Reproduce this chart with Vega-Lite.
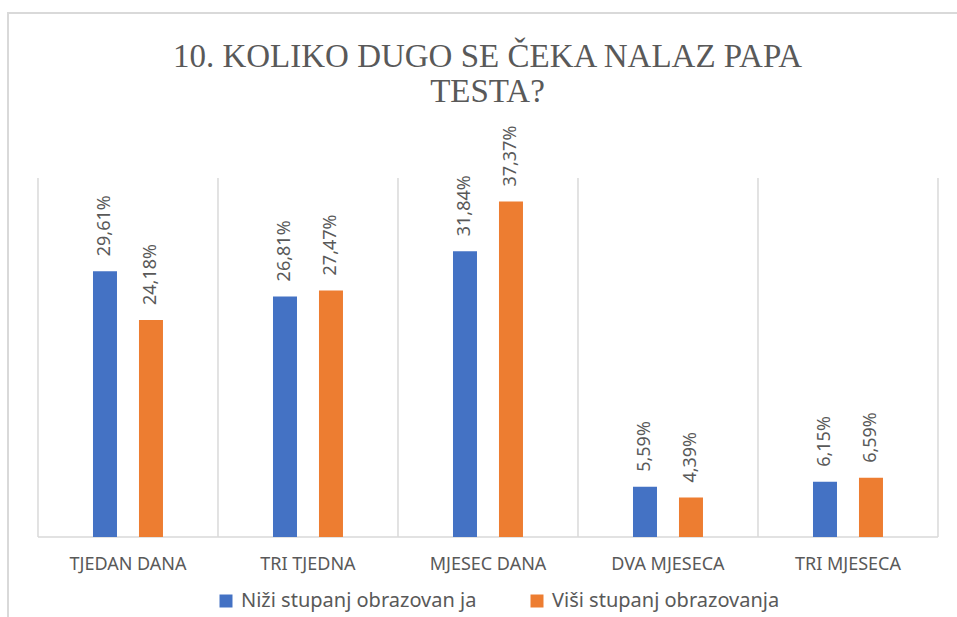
{
  "$schema": "https://vega.github.io/schema/vega-lite/v6.json",
  "width": 949,
  "height": 604,
  "autosize": {"type": "none"},
  "padding": {"left": 8, "top": 13, "right": 0, "bottom": 0},
  "background": "white",
  "config": {
    "view": {"stroke": "#d9d9d9", "strokeWidth": 2, "strokeDash": [949, 1553, 604]},
    "locale": {"number": {"decimal": ",", "thousands": ".", "grouping": [3], "currency": ["", " €"]}},
    "font": "Noto Sans"
  },
  "title": {
    "text": ["10. KOLIKO DUGO SE ČEKA NALAZ PAPA", "TESTA?"],
    "anchor": "middle",
    "font": "Liberation Serif",
    "fontSize": 33,
    "fontWeight": "normal",
    "color": "#595959",
    "lineHeight": 35,
    "offset": -96,
    "dx": 5
  },
  "data": {
    "values": [
      {"cat": "TJEDAN DANA", "series": "Niži stupanj obrazovan ja", "value": 0.2961},
      {"cat": "TJEDAN DANA", "series": "Viši stupanj obrazovanja", "value": 0.2418},
      {"cat": "TRI TJEDNA", "series": "Niži stupanj obrazovan ja", "value": 0.2681},
      {"cat": "TRI TJEDNA", "series": "Viši stupanj obrazovanja", "value": 0.2747},
      {"cat": "MJESEC DANA", "series": "Niži stupanj obrazovan ja", "value": 0.3184},
      {"cat": "MJESEC DANA", "series": "Viši stupanj obrazovanja", "value": 0.3737},
      {"cat": "DVA MJESECA", "series": "Niži stupanj obrazovan ja", "value": 0.0559},
      {"cat": "DVA MJESECA", "series": "Viši stupanj obrazovanja", "value": 0.0439},
      {"cat": "TRI MJESECA", "series": "Niži stupanj obrazovan ja", "value": 0.0615},
      {"cat": "TRI MJESECA", "series": "Viši stupanj obrazovanja", "value": 0.0659}
    ]
  },
  "layer": [
    {
      "transform": [{"filter": "datum.series === 'Niži stupanj obrazovan ja'"}],
      "mark": {"type": "rule", "color": "#d9d9d9", "strokeWidth": 1.5},
      "encoding": {
        "x": {
          "field": "cat", "type": "nominal", "sort": null, "bandPosition": 0,
          "scale": {"paddingInner": 0, "paddingOuter": 0.1361, "align": 0.612},
          "axis": {
            "title": null, "orient": "bottom", "offset": -80,
            "labelAngle": 0, "labelFont": "Noto Sans", "labelFontSize": 18,
            "labelColor": "#595959", "labelPadding": 18,
            "ticks": false, "domain": false, "grid": false, "bandPosition": 0.5
          }
        },
        "y": {"datum": 0, "scale": {"domain": [-0.089136, 0.583844], "nice": false}, "axis": null},
        "y2": {"datum": 0.4}
      }
    },
    {
      "transform": [{"filter": "datum.series === 'Niži stupanj obrazovan ja' && datum.cat === 'TRI MJESECA'"}],
      "mark": {"type": "rule", "color": "#d9d9d9", "strokeWidth": 1.5},
      "encoding": {
        "x": {"field": "cat", "type": "nominal", "sort": null, "bandPosition": 1},
        "y": {"datum": 0, "scale": {"domain": [-0.089136, 0.583844], "nice": false}, "axis": null},
        "y2": {"datum": 0.4}
      }
    },
    {
      "transform": [{"filter": "datum.series === 'Niži stupanj obrazovan ja'"}],
      "mark": {"type": "rule", "color": "#d9d9d9", "strokeWidth": 1.5},
      "encoding": {
        "x": {"field": "cat", "type": "nominal", "sort": null, "bandPosition": 0},
        "x2": {"field": "cat", "bandPosition": 1},
        "y": {"datum": 0, "scale": {"domain": [-0.089136, 0.583844], "nice": false}, "axis": null}
      }
    },
    {
      "mark": {"type": "bar", "width": 24},
      "encoding": {
        "x": {"field": "cat", "type": "nominal", "sort": null},
        "xOffset": {
          "field": "series", "type": "nominal",
          "sort": ["Niži stupanj obrazovan ja", "Viši stupanj obrazovanja"],
          "scale": {"paddingInner": 0, "paddingOuter": 0.957}
        },
        "y": {"field": "value", "type": "quantitative", "scale": {"domain": [-0.089136, 0.583844], "nice": false}, "axis": null},
        "color": {
          "field": "series",
          "type": "nominal",
          "scale": {
            "domain": ["Niži stupanj obrazovan ja", "Viši stupanj obrazovanja"],
            "range": ["#4472C4", "#ED7D31"]
          },
          "legend": {
            "title": null,
            "orient": "none",
            "legendX": 208,
            "legendY": 578,
            "direction": "horizontal",
            "symbolType": "square",
            "symbolSize": 169,
            "symbolStrokeWidth": 0,
            "labelFont": "Noto Sans",
            "labelFontSize": 20,
            "labelColor": "#595959",
            "labelOffset": 5,
            "columnPadding": 50,
            "labelLimit": 400
          }
        }
      }
    },
    {
      "mark": {
        "type": "text",
        "angle": 270,
        "align": "left",
        "baseline": "middle",
        "dx": 15,
        "fontSize": 18,
        "font": "Noto Sans",
        "color": "#595959"
      },
      "encoding": {
        "x": {"field": "cat", "type": "nominal", "sort": null},
        "xOffset": {"field": "series", "type": "nominal", "sort": ["Niži stupanj obrazovan ja", "Viši stupanj obrazovanja"]},
        "y": {"field": "value", "type": "quantitative", "scale": {"domain": [-0.089136, 0.583844], "nice": false}, "axis": null},
        "text": {"field": "value", "type": "quantitative", "format": ".2%"}
      }
    }
  ]
}
